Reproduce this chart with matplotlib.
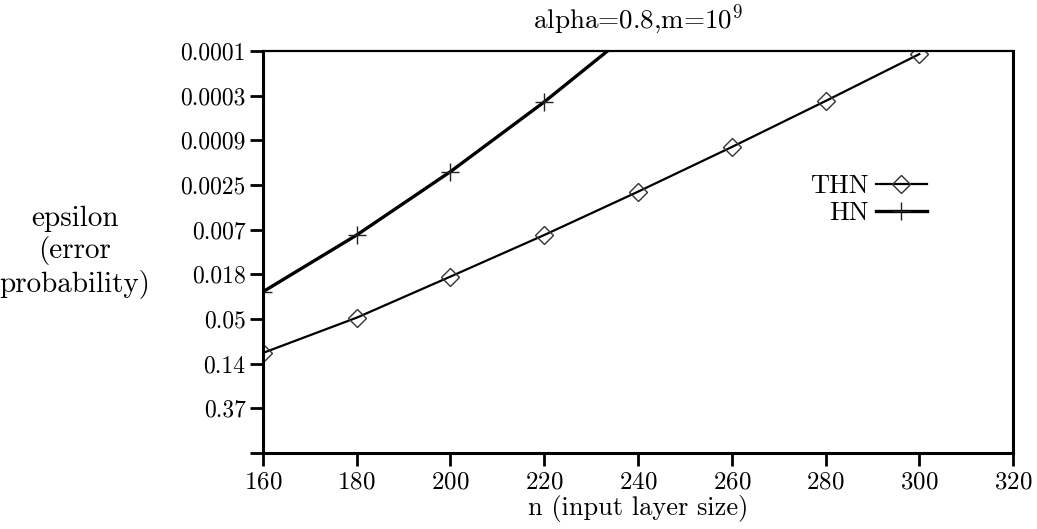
import numpy as np
import matplotlib
matplotlib.use("Agg")
import matplotlib.pyplot as plt
from matplotlib.legend_handler import HandlerLine2D

plt.rcParams['font.family'] = ['cmr10', 'DejaVu Sans']
plt.rcParams['mathtext.fontset'] = 'cm'
plt.rcParams['axes.unicode_minus'] = False
plt.rcParams['axes.formatter.use_mathtext'] = True

# data: y is -ln(epsilon)
n_thn = [160, 180, 200, 220, 240, 260, 280, 300]
thn = [2.24, 3.03, 3.95, 4.88, 5.85, 6.85, 7.88, 8.93]
n_hn = [160, 180, 200, 220, 240]
hn = [3.61, 4.88, 6.30, 7.86, 9.55]

ytick_pos = [0, 1, 2, 3, 4, 5, 6, 7, 8, 9]
ytick_lbl = ['', '0.37', '0.14', '0.05', '0.018', '0.007', '0.0025', '0.0009', '0.0003', '0.0001']
xticks = [160, 180, 200, 220, 240, 260, 280, 300, 320]


class LeftMarker(HandlerLine2D):
    # marker at left end of the legend line, like the original
    def get_xdata(self, legend, xdescent, ydescent, width, height, fontsize):
        xdata, _ = super().get_xdata(legend, xdescent, ydescent, width, height, fontsize)
        return xdata, [xdata[0] + 0.15 * width]


fig = plt.figure(figsize=(10.37, 5.29), dpi=100)
ax = fig.add_axes([0.2536, 0.1437, 0.7233, 0.7599])

l1, = ax.plot(n_thn, thn, color='black', lw=1.6, marker='D', ms=9.5,
              mfc='none', mec='#333333', mew=1.0, label='THN')
l2, = ax.plot(n_hn, hn, color='black', lw=2.4, marker='+', ms=13,
              mec='#222222', mew=1.0, label='HN')

ax.set_xlim(160, 320)
ax.set_ylim(0, 9)
ax.set_xticks(xticks)
ax.set_yticks(ytick_pos)
ax.set_yticklabels(ytick_lbl)

fs = 17
ax.tick_params(direction='out', length=9.5, width=2, labelsize=fs, pad=3)
ax.tick_params(axis='x', labelsize=18, pad=4)
ax.tick_params(top=False, right=False)
for side in ['left', 'bottom', 'right']:
    ax.spines[side].set_linewidth(2.2)
ax.spines['top'].set_linewidth(1.6)

ax.set_title('alpha=0.8,m=10$^9$', fontsize=19.5, pad=16)
ax.set_xlabel('n (input layer size)', fontsize=19, labelpad=1)
ax.set_ylabel('epsilon\n(error\nprobability)', fontsize=21, rotation=0,
              ha='center', va='center', multialignment='center', linespacing=1.2)
ax.yaxis.set_label_coords(-0.251, 0.5)

ax.legend(handles=[l1, l2], loc='center', bbox_to_anchor=(0.807, 0.63),
          frameon=False, markerfirst=False, numpoints=1, fontsize=19,
          handlelength=1.9, handletextpad=0.3, labelspacing=0.12,
          handler_map={l1: LeftMarker(), l2: LeftMarker()})

fig.savefig('out.png', dpi=100)
